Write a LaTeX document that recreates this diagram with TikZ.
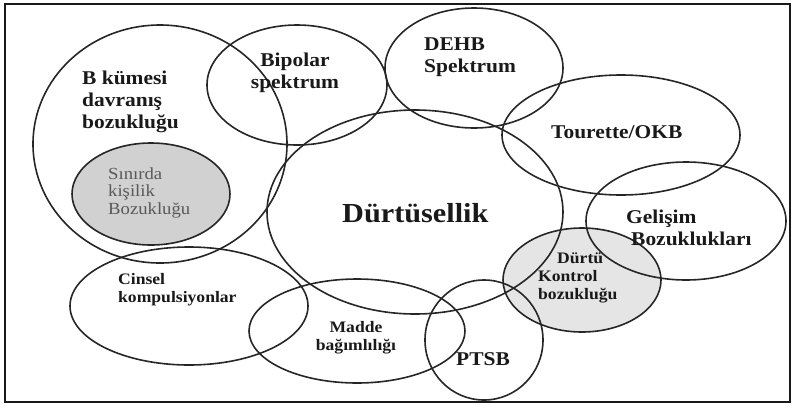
\documentclass[tikz,border=0pt]{standalone}
\usepackage{fontspec}
\setmainfont[FakeStretch=1.1]{Liberation Serif}
\usetikzlibrary{shapes.geometric}
\begin{document}
\begin{tikzpicture}[x=1pt,y=-1pt,
  blob/.style={ellipse, draw=black!85, line width=1.6pt, inner sep=0pt, outer sep=0pt},
  lbl/.style={font=\bfseries\fontsize{19.5}{22}\selectfont, align=left, inner sep=0pt, anchor=base west, text=black!90},
  small/.style={lbl, font=\bfseries\fontsize{16}{18}\selectfont},
  big/.style={lbl, font=\bfseries\fontsize{27.5}{30}\selectfont},
  soft/.style={lbl, font=\fontsize{17}{17.5}\selectfont, text=black!65}
]
\useasboundingbox (0,0) rectangle (793,408);
\draw[line width=2.5pt, black!90] (5,4) rectangle (790,402);
% filled shapes first
\fill[black!18] (151,194) ellipse [x radius=79pt, y radius=51pt];
\fill[black!10] (582,280) ellipse [x radius=79pt, y radius=52pt];
% outlines
\node[blob, minimum width=254pt, minimum height=238pt] (bk) at (160,144) {};
\node[blob, minimum width=158pt, minimum height=102pt] (sn) at (151,194) {};
\node[blob, minimum width=180pt, minimum height=120pt] (bp) at (297,85) {};
\node[blob, minimum width=178pt, minimum height=120pt] (de) at (474,68) {};
\node[blob, minimum width=238pt, minimum height=120pt] (to) at (621,135) {};
\node[blob, minimum width=200pt, minimum height=118pt] (ge) at (686,221) {};
\node[blob, minimum width=296pt, minimum height=204pt] (du) at (415,212) {};
\node[blob, minimum width=158pt, minimum height=104pt] (dk) at (582,280) {};
\node[blob, minimum width=118pt, minimum height=120pt] (pt) at (484,340) {};
\node[blob, minimum width=216pt, minimum height=104pt] (ma) at (357,331) {};
\node[blob, minimum width=238pt, minimum height=118pt] (ci) at (189,306) {};
% labels (base anchor = baseline of the last line)
\node[lbl] (tbk) at (82,128) {B kümesi\\davranış\\bozukluğu};
\node[soft] (tsn) at (108,214) {Sınırda\\kişilik\\Bozukluğu};
\node[lbl, align=center, anchor=base] (tbp) at (295,88) {Bipolar\\spektrum};
\node[lbl] (tde) at (424,72) {DEHB\\Spektrum};
\node[lbl] (tto) at (551,138) {Tourette/OKB};
\node[lbl] (tge) at (626,245) {Gelişim\\\hspace*{5pt}Bozuklukları};
\node[big] (tdu) at (342,222) {Dürtüsellik};
\node[small] (tdk) at (538,299) {\hspace*{19pt}Dürtü\\Kontrol\\bozukluğu};
\node[lbl] (tpt) at (456,365) {PTSB};
\node[small, align=center, anchor=base] (tma) at (356,350) {Madde\\bağımlılığı};
\node[small] (tci) at (118,302) {Cinsel\\kompulsiyonlar};
\end{tikzpicture}
\end{document}
